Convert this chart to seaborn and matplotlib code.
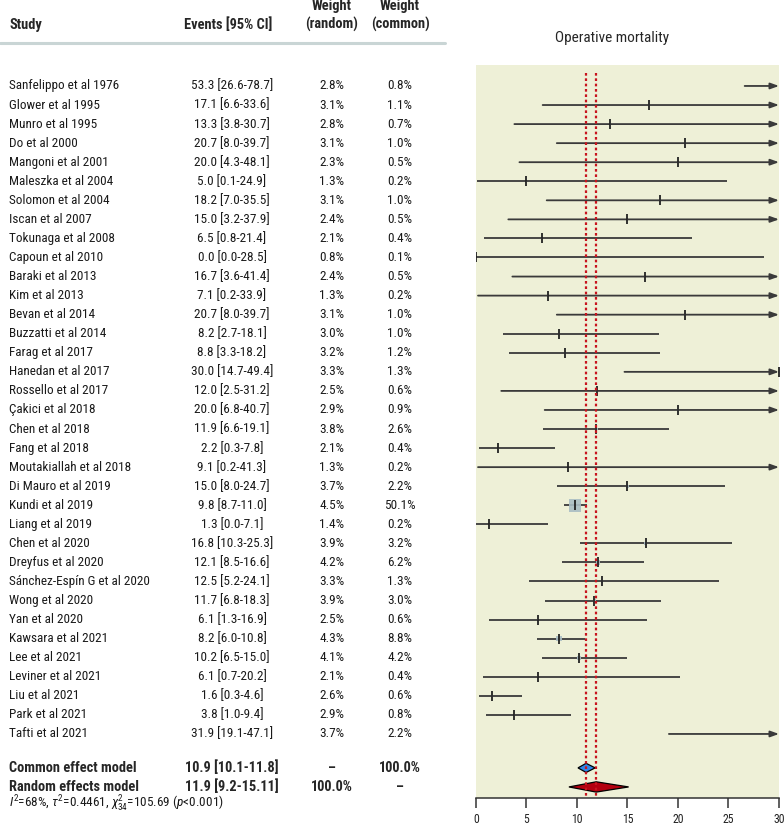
import matplotlib.pyplot as plt
import numpy as np
import pandas as pd
import seaborn as sns
from matplotlib.transforms import blended_transform_factory

studies = ['Sanfelippo et al 1976', 'Glower et al 1995', 'Munro et al 1995', 'Do et al 2000',
           'Mangoni et al 2001', 'Maleszka et al 2004', 'Solomon et al 2004', 'Iscan et al 2007',
           'Tokunaga et al 2008', 'Capoun et al 2010', 'Baraki et al 2013', 'Kim et al 2013',
           'Bevan et al 2014', 'Buzzatti et al 2014', 'Farag et al 2017', 'Hanedan et al 2017',
           'Rossello et al 2017', 'Çakici et al 2018', 'Chen et al 2018', 'Fang et al 2018',
           'Moutakiallah et al 2018', 'Di Mauro et al 2019', 'Kundi et al 2019', 'Liang et al 2019',
           'Chen et al 2020', 'Dreyfus et al 2020', 'Sánchez-Espín G et al 2020', 'Wong et al 2020',
           'Yan et al 2020', 'Kawsara et al 2021', 'Lee et al 2021', 'Leviner et al 2021',
           'Liu et al 2021', 'Park et al 2021', 'Tafti et al 2021']
est = [53.3, 17.1, 13.3, 20.7, 20.0, 5.0, 18.2, 15.0, 6.5, 0.0, 16.7, 7.1, 20.7, 8.2, 8.8, 30.0,
       12.0, 20.0, 11.9, 2.2, 9.1, 15.0, 9.8, 1.3, 16.8, 12.1, 12.5, 11.7, 6.1, 8.2, 10.2, 6.1,
       1.6, 3.8, 31.9]
lo = [26.6, 6.6, 3.8, 8.0, 4.3, 0.1, 7.0, 3.2, 0.8, 0.0, 3.6, 0.2, 8.0, 2.7, 3.3, 14.7,
      2.5, 6.8, 6.6, 0.3, 0.2, 8.0, 8.7, 0.0, 10.3, 8.5, 5.2, 6.8, 1.3, 6.0, 6.5, 0.7,
      0.3, 1.0, 19.1]
hi = [78.7, 33.6, 30.7, 39.7, 48.1, 24.9, 35.5, 37.9, 21.4, 28.5, 41.4, 33.9, 39.7, 18.1, 18.2, 49.4,
      31.2, 40.7, 19.1, 7.8, 41.3, 24.7, 11.0, 7.1, 25.3, 16.6, 24.1, 18.3, 16.9, 10.8, 15.0, 20.2,
      4.6, 9.4, 47.1]
w_random = [2.8, 3.1, 2.8, 3.1, 2.3, 1.3, 3.1, 2.4, 2.1, 0.8, 2.4, 1.3, 3.1, 3.0, 3.2, 3.3,
            2.5, 2.9, 3.8, 2.1, 1.3, 3.7, 4.5, 1.4, 3.9, 4.2, 3.3, 3.9, 2.5, 4.3, 4.1, 2.1,
            2.6, 2.9, 3.7]
w_common = [0.8, 1.1, 0.7, 1.0, 0.5, 0.2, 1.0, 0.5, 0.4, 0.1, 0.5, 0.2, 1.0, 1.0, 1.2, 1.3,
            0.6, 0.9, 2.6, 0.4, 0.2, 2.2, 50.1, 0.2, 3.2, 6.2, 1.3, 3.0, 0.6, 8.8, 4.2, 0.4,
            0.6, 0.8, 2.2]

summary_names = ['Common effect model', 'Random effects model']
summary_est = [10.9, 11.9]
summary_lo = [10.1, 9.2]
summary_hi = [11.8, 15.11]
summary_labels = ['10.9 [10.1-11.8]', '11.9 [9.2-15.11]']
summary_wr = ['–', '100.0%']
summary_wc = ['100.0%', '–']

df = pd.DataFrame({'study': studies, 'est': est, 'lo': lo, 'hi': hi,
                   'w_random': w_random, 'w_common': w_common})
df['row'] = np.arange(len(df))

sns.set_style('white')
plt.rcParams['font.family'] = ['Roboto Condensed', 'DejaVu Sans']
plt.rcParams['mathtext.fontset'] = 'custom'
plt.rcParams['mathtext.rm'] = 'Roboto Condensed'
plt.rcParams['mathtext.it'] = 'Roboto Condensed:italic'

W, H = 784, 826
fig = plt.figure(figsize=(W / 100, H / 100), dpi=100)
ax = fig.add_axes([476 / W, 1 - 798 / H, (779 - 476) / W, (798 - 65) / H])
ax.set_facecolor('#eef0d7')

xmax = 30
line_c = '#3a3a3a'

# CI lines (arrows where the interval runs past the axis)
for _, r in df.iterrows():
    if r['hi'] > xmax:
        ax.annotate('', xy=(xmax, r['row']), xytext=(r['lo'], r['row']),
                    arrowprops=dict(arrowstyle='-|>,head_length=0.5,head_width=0.18',
                                    color=line_c, lw=1.3, shrinkA=0, shrinkB=0))
    else:
        ax.hlines(r['row'], r['lo'], r['hi'], color=line_c, lw=1.3)

# weight squares (area ~ common weight)
k = 1.7
sns.scatterplot(data=df, x='est', y='row', size='w_common',
                sizes=(k * df['w_common'].min(), k * df['w_common'].max()),
                size_norm=(df['w_common'].min(), df['w_common'].max()),
                marker='s', color='#aabdc4', edgecolor='none', alpha=0.9,
                legend=False, ax=ax, zorder=3)
ax.plot(df['est'], df['row'], marker='|', ls='none', ms=7, mew=1.3, color='#222222', zorder=4)

# summary diamonds
n = len(df)
sum_rows = [n + 0.78, n + 1.78]
diamond_colors = ['#2f86e8', '#b3000f']
half_h = [0.24, 0.27]
for i in range(2):
    y = sum_rows[i]
    ax.fill([summary_lo[i], summary_est[i], summary_hi[i], summary_est[i]],
            [y, y - half_h[i], y, y + half_h[i]],
            facecolor=diamond_colors[i], edgecolor='black', lw=0.9, zorder=5)

# dotted reference lines
for v in summary_est:
    ax.vlines(v, -0.68, 37.36, color='#c8141e', lw=1.6, ls=(0, (1.2, 1.2)), zorder=6)

ax.set_xlim(0, xmax)
ax.set_ylim(37.36, -1.1)
ax.set_xticks(np.arange(0, 31, 5))
ax.set_yticks([])
ax.set_xlabel('')
ax.set_ylabel('')
for s in ['top', 'left', 'right']:
    ax.spines[s].set_visible(False)
ax.spines['bottom'].set_color('#333333')
ax.spines['bottom'].set_linewidth(1.1)
ax.tick_params(axis='x', direction='out', length=7, width=1.1, color='#333333',
               labelsize=8.5, pad=3.5, bottom=True, labelcolor='#222222')

# table text
tr = blended_transform_factory(fig.transFigure, ax.transData)
fs = 9.5
fb = 10.4
tc = '#1a1a1a'
for _, r in df.iterrows():
    y = r['row']
    fig.text(9 / W, y, r['study'], transform=tr, ha='left', va='center', fontsize=fs, color=tc)
    fig.text(232 / W, y, f"{r['est']:.1f} [{r['lo']:.1f}-{r['hi']:.1f}]", transform=tr,
             ha='center', va='center', fontsize=fs, color=tc)
    fig.text(332 / W, y, f"{r['w_random']:.1f}%", transform=tr, ha='center', va='center',
             fontsize=fs, color=tc)
    fig.text(400 / W, y, f"{r['w_common']:.1f}%", transform=tr, ha='center', va='center',
             fontsize=fs, color=tc)

for i in range(2):
    y = sum_rows[i]
    fig.text(9 / W, y, summary_names[i], transform=tr, ha='left', va='center', fontsize=fb, weight='bold')
    fig.text(232 / W, y, summary_labels[i], transform=tr, ha='center', va='center', fontsize=fb, weight='bold')
    fig.text(332 / W, y, summary_wr[i], transform=tr, ha='center', va='center', fontsize=fb, weight='bold')
    fig.text(400 / W, y, summary_wc[i], transform=tr, ha='center', va='center', fontsize=fb, weight='bold')

fig.text(9 / W, 37.68, r'$I^2$=68%, $\tau^2$=0.4461, $\chi^2_{34}$=105.69 ($p$<0.001)',
         transform=tr, ha='left', va='center', fontsize=fs, color=tc)

# header
hdr_y = -3.2
fig.text(9 / W, hdr_y, 'Study', transform=tr, ha='left', va='center', fontsize=fb, weight='bold')
fig.text(228 / W, hdr_y, 'Events [95% CI]', transform=tr, ha='center', va='center', fontsize=fb, weight='bold')
fig.text(332 / W, hdr_y - 1.0, 'Weight', transform=tr, ha='center', va='center', fontsize=fb, weight='bold')
fig.text(332 / W, hdr_y, '(random)', transform=tr, ha='center', va='center', fontsize=fb, weight='bold')
fig.text(400 / W, hdr_y - 1.0, 'Weight', transform=tr, ha='center', va='center', fontsize=fb, weight='bold')
fig.text(400 / W, hdr_y, '(common)', transform=tr, ha='center', va='center', fontsize=fb, weight='bold')
fig.add_artist(plt.Line2D([0, 445 / W], [-2.26, -2.26], transform=tr, color='#c9d5d5', lw=2.2))
fig.text(612 / W, -2.52, 'Operative mortality', transform=tr, ha='center', va='center', fontsize=11)

fig.savefig('out.png', dpi=100)
